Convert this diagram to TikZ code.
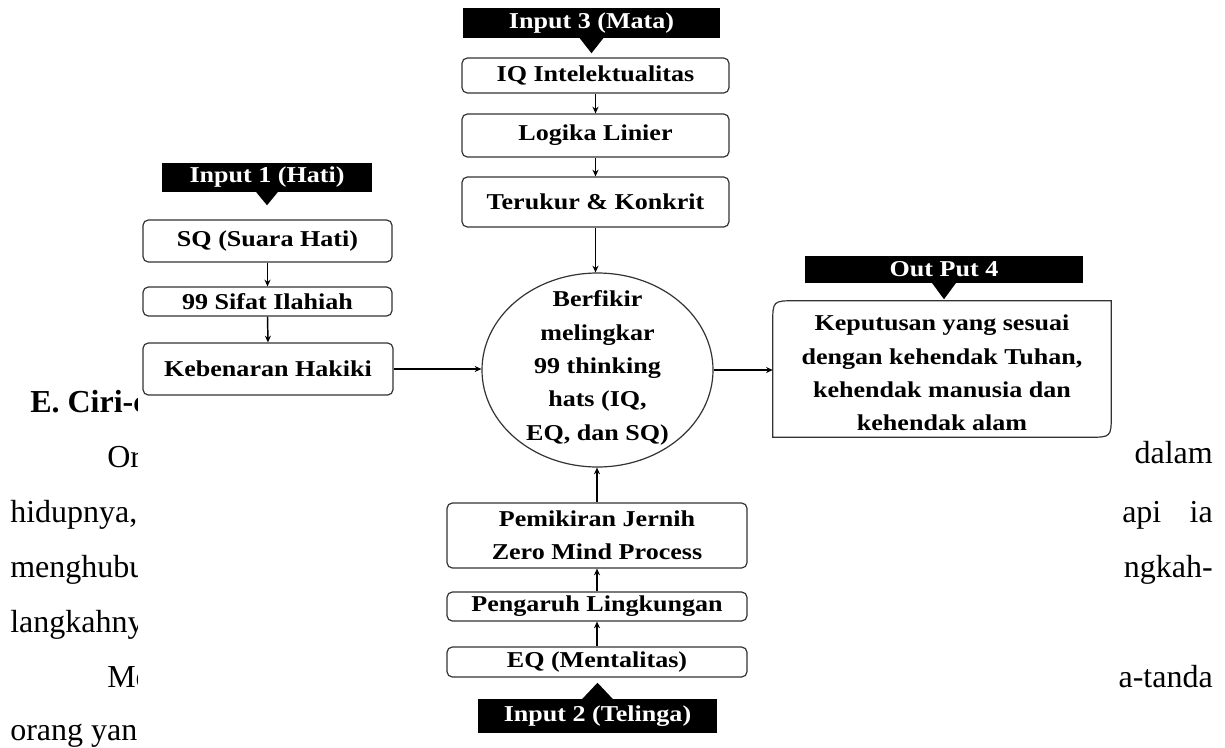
\documentclass[tikz,border=0pt]{standalone}
\usepackage{fontspec}
\setmainfont{Liberation Serif}
\newfontfamily\dgfont[FakeStretch=1.15]{Liberation Serif}
\usetikzlibrary{arrows.meta,calc,shapes.geometric}
\newcommand\dgtext{\dgfont\bfseries\fontsize{17}{25}\selectfont}
\newcommand\bodytext{\fontsize{24}{28}\selectfont}
\begin{document}
\begin{tikzpicture}[x=0.75pt,y=-0.75pt,
  box/.style={draw=black!80,line width=0.9pt,rounded corners=4pt,inner sep=0pt,align=center,font=\dgtext,fill=white},
  bar/.style={fill=black,text=white,inner sep=0pt,align=center,font=\dgtext},
  ell/.style={ellipse,draw=black!80,line width=0.9pt,inner sep=0pt},
  arr/.style={line width=1.1pt,-{Stealth[length=5pt,width=4.5pt]}},
  tri/.style={fill=black},
  body/.style={inner sep=0pt,font=\bodytext,anchor=base west},
  bodyr/.style={inner sep=0pt,font=\bodytext,anchor=base east}]
\useasboundingbox (0,0) rectangle (1225,747);
\fill[white] (0,0) rectangle (1225,747);

% background document text fragments
\begin{scope}
\clip (0,0) rectangle (137,747);
\node[body,font=\bodytext\bfseries] (h1) at (30,412) {E. Ciri-c};
\node[body] (t1) at (107,467) {Or};
\node[body] (t2) at (10,522) {hidupnya,};
\node[body] (t3) at (10,577) {menghubu};
\node[body] (t4) at (10,632) {langkahny};
\node[body] (t5) at (107,687) {Me};
\node[body] (t6) at (10,740) {orang yan};
\end{scope}
\node[bodyr] (r1) at (1213,463) {dalam};
\node[body] (r2a) at (1122,522) {api};
\node[bodyr] (r2b) at (1213,522) {ia};
\node[bodyr] (r3) at (1213,577) {ngkah-};
\node[bodyr] (r5) at (1213,687) {a-tanda};

% Input 3 column (top)
\node[bar,minimum width=192.75pt,minimum height=22.5pt] (bar3) at (591.5,23) {Input 3 (Mata)};
\node[box,minimum width=200.25pt,minimum height=26.25pt] (iq) at (595.5,75.5) {IQ Intelektualitas};
\node[box,minimum width=200.25pt,minimum height=32.25pt] (logika) at (595.5,135.5) {Logika Linier};
\node[box,minimum width=200.25pt,minimum height=37.5pt] (terukur) at (595.5,202) {Terukur \& Konkrit};

% center ellipse
\node[ell,minimum width=173.25pt,minimum height=145.5pt] (ell) at (597.5,370) {};
\node[inner sep=0pt,align=center,font=\dgtext] (elltext) at (597.5,368) {Berfikir\\melingkar\\99 thinking\\hats (IQ,\\EQ, dan SQ)};

% Input 1 column (left)
\node[bar,minimum width=157.5pt,minimum height=21.75pt] (bar1) at (267,177.5) {Input 1 (Hati)};
\node[box,minimum width=186.75pt,minimum height=31.5pt] (sq) at (267.5,241) {SQ (Suara Hati)};
\node[box,minimum width=186.75pt,minimum height=21.75pt] (sifat) at (267.5,301.5) {99 Sifat Ilahiah};
\node[box,minimum width=187.5pt,minimum height=39pt] (keb) at (268,369) {Kebenaran Hakiki};

% Output 4 (right)
\node[bar,minimum width=208.5pt,minimum height=20.25pt] (bar4) at (944,269.5) {Out Put 4};
\node[inner sep=0pt,minimum width=253.5pt,minimum height=102pt] (out) at (942,369) {};
\node[inner sep=0pt,align=center,font=\dgtext] (outtext) at (942,373) {Keputusan yang sesuai\\dengan kehendak Tuhan,\\kehendak manusia dan\\kehendak alam};
\draw[draw=black!80,line width=0.9pt] ($(out.north west)+(23,0)$) -- (out.north east) -- ($(out.south east)+(0,-23)$) .. controls (out.south east) .. ($(out.south east)+(-23,0)$) -- (out.south west) -- ($(out.north west)+(0,23)$) .. controls (out.north west) .. ($(out.north west)+(23,0)$) -- cycle;

% Input 2 column (bottom)
\node[box,minimum width=225pt,minimum height=48.75pt] (pem) at (597,535.5) {Pemikiran Jernih\\Zero Mind Process};
\node[box,minimum width=225pt,minimum height=21.75pt] (peng) at (597,606.5) {Pengaruh Lingkungan};
\node[box,minimum width=225pt,minimum height=22.5pt] (eq) at (597,662) {EQ (Mentalitas)};
\node[bar,minimum width=179.25pt,minimum height=25.5pt] (bar2) at (597.5,716) {Input 2 (Telinga)};

% block triangles
\fill[tri] ($(bar3.south)+(-12.5,-1)$) -- ($(bar3.south)+(12.5,-1)$) -- ($(bar3.south)+(0,15)$) -- cycle;
\fill[tri] ($(bar1.south)+(-11.5,-1)$) -- ($(bar1.south)+(11.5,-1)$) -- ($(bar1.south)+(0,13)$) -- cycle;
\fill[tri] ($(bar4.south)+(-12.5,-1)$) -- ($(bar4.south)+(12.5,-1)$) -- ($(bar4.south)+(0,16)$) -- cycle;
\fill[tri] ($(bar2.north)+(-16,1)$) -- ($(bar2.north)+(16,1)$) -- ($(bar2.north)+(0,-16)$) -- cycle;

% connectors
\draw[arr] (iq.south) -- (logika.north);
\draw[arr] (logika.south) -- (terukur.north);
\draw[arr] (terukur.south) -- (terukur.south |- ell.north);
\draw[arr] (sq.south) -- (sifat.north);
\draw[arr] (sifat.south) -- (keb.north);
\draw[arr] (keb.east) -- (keb.east -| ell.west);
\draw[arr] (ell.east) -- (ell.east -| out.west);
\draw[arr] (pem.north) -- (pem.north |- ell.south);
\draw[arr] (peng.north) -- (pem.south);
\draw[arr] (eq.north) -- (peng.south);
\end{tikzpicture}
\end{document}
